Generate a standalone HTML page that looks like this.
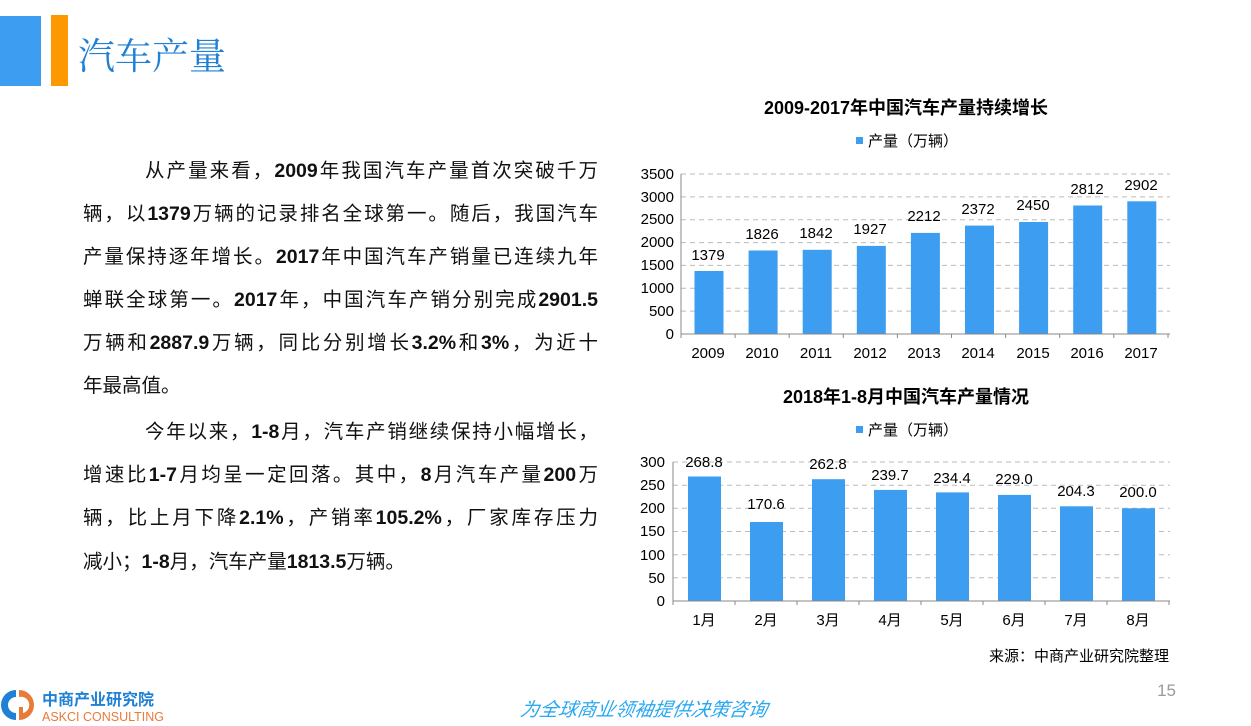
<!DOCTYPE html>
<html><head><meta charset="utf-8"><style>
body{margin:0;width:1251px;height:726px;background:#fff;position:relative;overflow:hidden;font-family:"Liberation Sans","Noto Sans CJK SC",sans-serif}
.l{position:absolute;left:83px;width:515px;font-size:19.5px;color:#111;text-align:justify;text-align-last:justify;white-space:nowrap;line-height:24px}
.l b{font-weight:bold}
.nl{text-align-last:left}
svg text{font-family:"Liberation Sans","Noto Sans CJK SC",sans-serif}
</style></head><body>
<div style="position:absolute;left:0;top:16px;width:41px;height:70px;background:#3d9df0"></div>
<div style="position:absolute;left:51px;top:15px;width:17px;height:71px;background:#fd9800"></div>
<div style="position:absolute;left:78px;top:28px;font-size:37px;color:#1f80d6;font-family:'Noto Serif CJK SC',serif;line-height:50px">汽车产量</div>

<div class="l" style="top:159px;padding-left:62px;width:453px">从产量来看，<b>2009</b>年我国汽车产量首次突破千万</div>
<div class="l" style="top:202px">辆，以<b>1379</b>万辆的记录排名全球第一。随后，我国汽车</div>
<div class="l" style="top:245px">产量保持逐年增长。<b>2017</b>年中国汽车产销量已连续九年</div>
<div class="l" style="top:288px">蝉联全球第一。<b>2017</b>年，中国汽车产销分别完成<b>2901.5</b></div>
<div class="l" style="top:331px">万辆和<b>2887.9</b>万辆，同比分别增长<b>3.2%</b>和<b>3%</b>，为近十</div>
<div class="l nl" style="top:374px">年最高值。</div>
<div class="l" style="top:420px;padding-left:62px;width:453px">今年以来，<b>1-8</b>月，汽车产销继续保持小幅增长，</div>
<div class="l" style="top:463px">增速比<b>1-7</b>月均呈一定回落。其中，<b>8</b>月汽车产量<b>200</b>万</div>
<div class="l" style="top:506px">辆，比上月下降<b>2.1%</b>，产销率<b>105.2%</b>，厂家库存压力</div>
<div class="l nl" style="top:550px">减小；<b>1-8</b>月，汽车产量<b>1813.5</b>万辆。</div>

<svg width="1251" height="726" style="position:absolute;left:0;top:0">
<text x="906" y="114" font-size="18" font-weight="bold" text-anchor="middle" fill="#000">2009-2017年中国汽车产量持续增长</text>
<rect x="856" y="137" width="7" height="7" fill="#3d9df0"/>
<text x="868" y="146" font-size="15" fill="#000">产量（万辆）</text>
<g stroke="#bbb" stroke-dasharray="5,4" stroke-width="1">
<line x1="681" x2="1170" y1="174" y2="174"/><line x1="681" x2="1170" y1="196.9" y2="196.9"/><line x1="681" x2="1170" y1="219.7" y2="219.7"/><line x1="681" x2="1170" y1="242.6" y2="242.6"/><line x1="681" x2="1170" y1="265.4" y2="265.4"/><line x1="681" x2="1170" y1="288.3" y2="288.3"/><line x1="681" x2="1170" y1="311.1" y2="311.1"/>
</g>
<g fill="#3d9df0">
<rect x="694.5" y="271" width="29" height="63"/><rect x="748.6" y="250.5" width="29" height="83.5"/><rect x="802.7" y="249.8" width="29" height="84.2"/><rect x="856.8" y="245.9" width="29" height="88.1"/><rect x="910.9" y="232.9" width="29" height="101.1"/><rect x="965" y="225.6" width="29" height="108.4"/><rect x="1019.1" y="222" width="29" height="112"/><rect x="1073.2" y="205.5" width="29" height="128.5"/><rect x="1127.3" y="201.3" width="29" height="132.7"/>
</g>
<g stroke="#888" stroke-width="1"><line x1="681" x2="681" y1="174" y2="338"/><line x1="681" x2="1170" y1="334" y2="334"/>
<line x1="735.1" x2="735.1" y1="334" y2="338"/><line x1="789.2" x2="789.2" y1="334" y2="338"/><line x1="843.3" x2="843.3" y1="334" y2="338"/><line x1="897.4" x2="897.4" y1="334" y2="338"/><line x1="951.5" x2="951.5" y1="334" y2="338"/><line x1="1005.6" x2="1005.6" y1="334" y2="338"/><line x1="1059.7" x2="1059.7" y1="334" y2="338"/><line x1="1113.8" x2="1113.8" y1="334" y2="338"/><line x1="1168" x2="1168" y1="334" y2="338"/></g>
<g font-size="15" text-anchor="end" fill="#000">
<text x="674" y="339">0</text><text x="674" y="316">500</text><text x="674" y="293">1000</text><text x="674" y="270">1500</text><text x="674" y="247">2000</text><text x="674" y="224">2500</text><text x="674" y="202">3000</text><text x="674" y="179">3500</text></g>
<g font-size="15" text-anchor="middle" fill="#000">
<text x="708" y="358">2009</text><text x="762" y="358">2010</text><text x="816" y="358">2011</text><text x="870" y="358">2012</text><text x="924" y="358">2013</text><text x="978" y="358">2014</text><text x="1033" y="358">2015</text><text x="1087" y="358">2016</text><text x="1141" y="358">2017</text>
<text x="708" y="260">1379</text><text x="762" y="239">1826</text><text x="816" y="238">1842</text><text x="870" y="234">1927</text><text x="924" y="221">2212</text><text x="978" y="214">2372</text><text x="1033" y="210">2450</text><text x="1087" y="194">2812</text><text x="1141" y="190">2902</text></g>

<text x="906" y="403" font-size="18" font-weight="bold" text-anchor="middle" fill="#000">2018年1-8月中国汽车产量情况</text>
<rect x="856" y="426" width="7" height="7" fill="#3d9df0"/>
<text x="868" y="435" font-size="15" fill="#000">产量（万辆）</text>
<g stroke="#bbb" stroke-dasharray="5,4" stroke-width="1">
<line x1="673" x2="1170" y1="462" y2="462"/><line x1="673" x2="1170" y1="485.2" y2="485.2"/><line x1="673" x2="1170" y1="508.3" y2="508.3"/><line x1="673" x2="1170" y1="531.5" y2="531.5"/><line x1="673" x2="1170" y1="554.7" y2="554.7"/><line x1="673" x2="1170" y1="577.8" y2="577.8"/></g>
<g fill="#3d9df0">
<rect x="688" y="476.5" width="33" height="124.5"/><rect x="750" y="522" width="33" height="79"/><rect x="812" y="479.2" width="33" height="121.8"/><rect x="874" y="489.9" width="33" height="111.1"/><rect x="936" y="492.4" width="33" height="108.6"/><rect x="998" y="494.9" width="33" height="106.1"/><rect x="1060" y="506.3" width="33" height="94.7"/><rect x="1122" y="508.3" width="33" height="92.7"/></g>
<g stroke="#888" stroke-width="1"><line x1="673" x2="673" y1="462" y2="605"/><line x1="673" x2="1170" y1="601" y2="601"/>
<line x1="735" x2="735" y1="601" y2="605"/><line x1="797" x2="797" y1="601" y2="605"/><line x1="859" x2="859" y1="601" y2="605"/><line x1="921" x2="921" y1="601" y2="605"/><line x1="983" x2="983" y1="601" y2="605"/><line x1="1045" x2="1045" y1="601" y2="605"/><line x1="1107" x2="1107" y1="601" y2="605"/><line x1="1169" x2="1169" y1="601" y2="605"/></g>
<g font-size="15" text-anchor="end" fill="#000">
<text x="665" y="606">0</text><text x="665" y="583">50</text><text x="665" y="560">100</text><text x="665" y="536">150</text><text x="665" y="513">200</text><text x="665" y="490">250</text><text x="665" y="467">300</text></g>
<g font-size="15" text-anchor="middle" fill="#000">
<text x="704" y="625">1月</text><text x="766" y="625">2月</text><text x="828" y="625">3月</text><text x="890" y="625">4月</text><text x="952" y="625">5月</text><text x="1014" y="625">6月</text><text x="1076" y="625">7月</text><text x="1138" y="625">8月</text>
<text x="704" y="467">268.8</text><text x="766" y="509">170.6</text><text x="828" y="469">262.8</text><text x="890" y="480">239.7</text><text x="952" y="483">234.4</text><text x="1014" y="484">229.0</text><text x="1076" y="496">204.3</text><text x="1138" y="497">200.0</text></g>
<text x="1169" y="661" font-size="15" text-anchor="end" fill="#000">来源：中商产业研究院整理</text>
<text x="1176" y="696" font-size="17" text-anchor="end" fill="#999">15</text>
<text x="643" y="716" font-size="19" text-anchor="middle" fill="#29a8f0" font-style="italic" transform="skewX(-10) translate(126,0)">为全球商业领袖提供决策咨询</text>
<path d="M16 690 A15 15 0 0 0 16 720 L16 713 A8 8 0 0 1 16 697 Z" fill="#1f80d6"/>
<path d="M19 690 A15 15 0 0 1 19 720 L19 707 L23 707 L23 713 A8 8 0 0 0 19 697 Z" fill="#e87a3a"/>
<text x="42" y="705" font-size="16" font-weight="bold" fill="#1f80d6">中商产业研究院</text>
<text x="42" y="721" font-size="12.5" fill="#e87a3a">ASKCI CONSULTING</text>
</svg>
</body></html>
